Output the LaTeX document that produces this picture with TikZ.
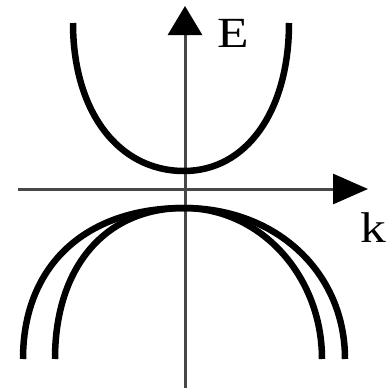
\documentclass[tikz,border=0pt]{standalone}
\usepackage{fontspec}
\setmainfont{Liberation Serif}
\usetikzlibrary{arrows.meta}
\begin{document}
\begin{tikzpicture}[x=1pt,y=-1pt,
  band/.style={line width=6.5pt, black},
  vaxis/.style={line width=3pt, black!72, -{Triangle[length=29pt,width=34pt,color=black]}},
  haxis/.style={line width=3pt, black!72, -{Triangle[length=35pt,width=30pt,color=black]}},
  lbl/.style={inner sep=0pt, anchor=base west, font=\fontsize{43}{43}\selectfont, xscale=1.2}]
\useasboundingbox (0,0) rectangle (391,388);
\coordinate (vb) at (185,388);
\coordinate (vt) at (185,6);
\coordinate (hl) at (18,189);
\coordinate (hr) at (368,189);
\draw[vaxis] (vb) -- (vt);
\draw[haxis] (hl) -- (hr);
% conduction band
\draw[band] (73,23) .. controls (73,111) and (118,171) .. (184,171)
  .. controls (246.5,171) and (289,111) .. (289,23);
% valence bands
\draw[band] (23,359) .. controls (23,266) and (85,208) .. (184,208)
  .. controls (275.8,208) and (345,272) .. (345,359);
\draw[band] (55,359) .. controls (55,267) and (105.3,208) .. (184,208)
  .. controls (260.2,208) and (322,275.6) .. (322,359);
\node[lbl] (E) at (217.5,47.5) {E};
\node[lbl] (k) at (360.5,242) {k};
\end{tikzpicture}
\end{document}
